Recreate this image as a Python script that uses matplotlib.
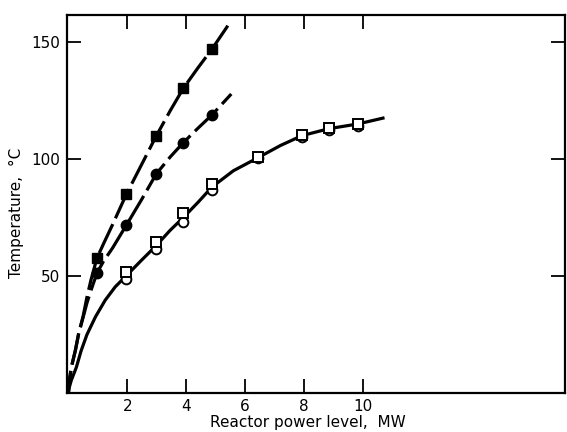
import numpy as np
import matplotlib.pyplot as plt

# ---- Data ----
# measured points
p_fsq = [0.97, 1.97, 2.98, 3.9, 4.87]
t_fsq = [57.7, 85.0, 109.8, 130.2, 146.9]

p_fci = [0.97, 1.97, 2.98, 3.9, 4.87]
t_fci = [51.3, 71.8, 93.6, 107.0, 118.8]

p_osq = [1.97, 2.98, 3.9, 4.87, 6.44, 7.93, 8.85, 9.83]
t_osq = [51.7, 64.5, 76.9, 89.3, 100.9, 110.3, 113.2, 115.0]

p_oci = [1.97, 2.98, 3.9, 4.87, 6.44, 7.93, 8.85, 9.83]
t_oci = [48.7, 61.5, 73.1, 86.8, 100.3, 109.6, 112.6, 114.3]

# drawn curves
cx_sq = [0, 0.03, 0.1, 0.24, 0.35, 0.5, 0.63, 0.77, 0.97, 1.2, 1.5, 1.97, 2.5, 2.98, 3.45, 3.9, 4.4, 4.87, 5.43]
cy_sq = [0, 5, 11, 18.4, 25.5, 32.8, 41, 48.5, 57.7, 64, 72, 85.0, 98, 109.8, 120.5, 130.2, 139, 146.9, 157.3]

cx_ci = [0, 0.03, 0.1, 0.24, 0.35, 0.5, 0.63, 0.77, 0.97, 1.2, 1.5, 1.97, 2.5, 2.98, 3.45, 3.9, 4.4, 4.87, 5.53]
cy_ci = [0, 5, 11, 18.4, 25.5, 32.4, 38.5, 44, 51.3, 56.5, 62, 71.8, 83, 93.6, 100.8, 107.0, 113.2, 118.8, 127.8]

cx_op = [0, 0.02, 0.1, 0.27, 0.43, 0.63, 0.92, 1.25, 1.59, 1.97, 2.5, 2.98, 3.45, 3.9, 4.4, 4.87, 5.6, 6.44, 7.2, 7.93, 8.85, 9.83, 10.68]
cy_op = [0, 2, 5.5, 11, 18, 25, 32.6, 39.7, 45.4, 50.2, 57, 63, 69.5, 75, 81.5, 88, 95, 100.6, 105.8, 110, 113, 115, 117.5]

xticks = [2, 4, 6, 8, 10]
yticks = [50, 100, 150]

# ---- Plot ----
fig = plt.figure(figsize=(5.67, 4.32), dpi=100)
ax = fig.add_axes([0.118, 0.090, 0.878, 0.875])

ax.plot(cx_sq, cy_sq, color='black', lw=2.3, linestyle=(3, (10, 2)))
ax.plot(cx_ci, cy_ci, color='black', lw=2.3, linestyle=(3, (10, 2)))
ax.plot(cx_op, cy_op, color='black', lw=2.3)

ax.plot(p_fsq, t_fsq, 's', color='black', ms=7.5, zorder=3)
ax.plot(p_fci, t_fci, 'o', color='black', ms=7.5, zorder=3)
ax.plot(p_oci, t_oci, 'o', mfc='white', mec='black', mew=1.4, ms=7, zorder=3)
ax.plot(p_osq, t_osq, 's', mfc='white', mec='black', mew=1.4, ms=7, zorder=4)

ax.set_xlim(-0.05, 16.85)
ax.set_ylim(0, 161.5)
ax.set_xticks(xticks)
ax.set_yticks(yticks)
ax.tick_params(direction='in', length=10, width=1.3, labelsize=11,
               top=True, right=True)
ax.tick_params(axis='x', pad=4)
ax.tick_params(axis='y', pad=5)
for s in ax.spines.values():
    s.set_linewidth(1.6)

ax.set_xlabel('Reactor power level,  MW', fontsize=11, x=0.484, labelpad=1)
ax.set_ylabel('Temperature,  °C', fontsize=11, y=0.476, labelpad=5)

plt.savefig('out.png', dpi=100)
